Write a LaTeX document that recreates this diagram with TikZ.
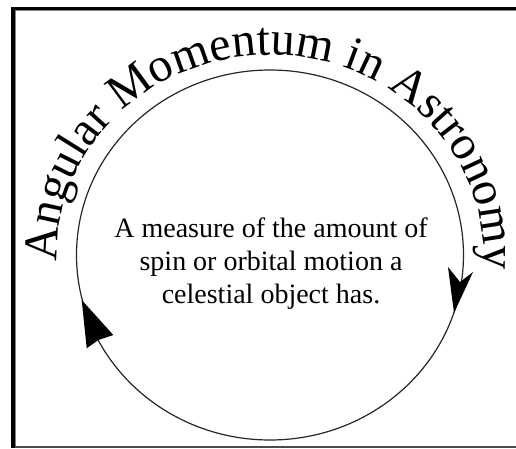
\documentclass[tikz,border=0pt]{standalone}
\usepackage{fontspec}
\setmainfont{Liberation Serif}
\usetikzlibrary{decorations.text}

\begin{document}
\begin{tikzpicture}[x=1pt, y=1pt]
        % 1. VARIABLES (centre and radii of the orbit)
        \def\W{516}     % picture width
        \def\H{448}     % picture height
        \def\cx{270}    % centre of the orbit (x)
        \def\cy{193}    % centre of the orbit (y)
        \def\rx{193.5}  % horizontal radius
        \def\ry{185}    % vertical radius

        \useasboundingbox (0,0) rectangle (\W,\H);

        % ==========================================
        % 2. FRAME (dark left/top edge, thin bottom edge)
        % ==========================================
        \draw[line width=4pt, black] (13,0) -- (13,441);
        \draw[line width=3pt, black] (11,439.5) -- (\W,439.5);
        \draw[line width=1pt, gray] (15.5,0) -- (15.5,437.5) -- (\W,437.5);
        \draw[line width=1.5pt, black!70] (15,1.2) -- (\W,1.2);

        % ==========================================
        % 3. ORBIT
        % ==========================================
        \draw[line width=1.2pt, black!85] (\cx,\cy) ellipse [x radius=\rx, y radius=\ry];

        % Arrow heads (clockwise motion)
        \fill[black] (454,135) -- (448,181) -- (460,166) -- (473,176) -- cycle;
        \fill[black] (81.7,148) -- (113.3,113) -- (98.3,108) -- (86.7,99.7) -- cycle;

        % ==========================================
        % 4. TITLE ALONG THE ORBIT
        % ==========================================
        \path[decorate, decoration={text along path, text align=fit to path,
              text={|\fontsize{48pt}{50pt}\selectfont|Angular Momentum in Astronomy}}]
              (\cx,\cy) ++(182:213 and 200) arc[start angle=182, end angle=-2, x radius=213, y radius=200];

        % Description in the middle
        \node[align=center, font=\fontsize{28pt}{33pt}\selectfont] (desc) at (\cx+1,184)
              {A measure of the amount of\\ spin or orbital motion a\\ celestial object has.};
\end{tikzpicture}
\end{document}
